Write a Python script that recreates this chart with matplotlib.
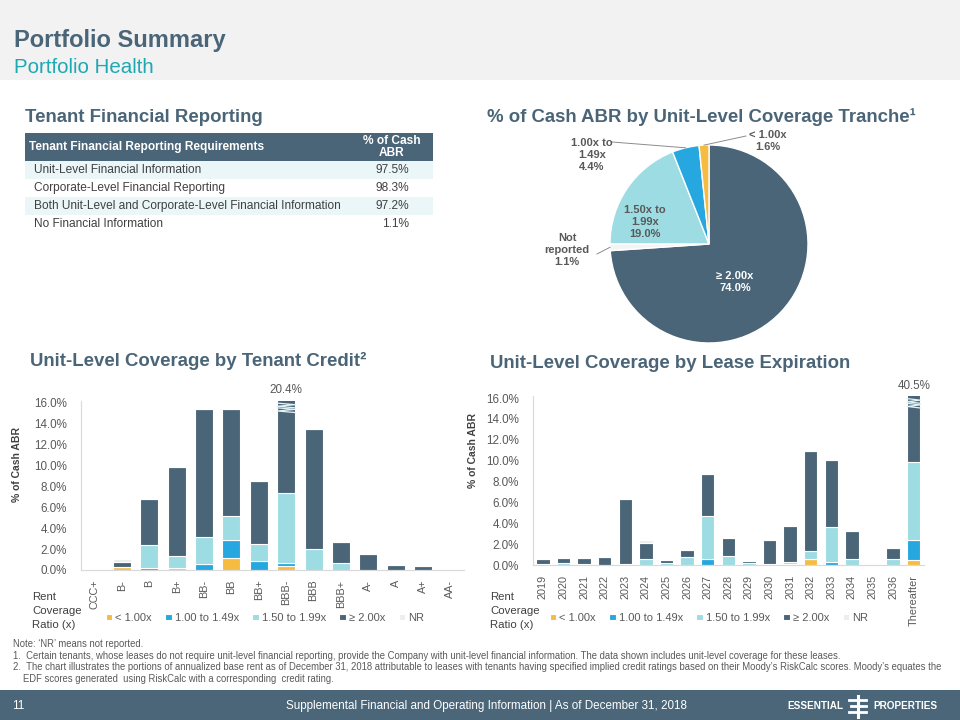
import matplotlib
matplotlib.use("Agg")
import matplotlib.pyplot as plt
from matplotlib.patches import Rectangle
from matplotlib.lines import Line2D
from matplotlib import font_manager
import numpy as np

# ---- data ----
table_rows = [
    "Unit-Level Financial Information",
    "Corporate-Level Financial Reporting",
    "Both Unit-Level and Corporate-Level Financial Information",
    "No Financial Information",
]
table_vals = [97.5, 98.3, 97.2, 1.1]

pie_labels = ["\u2265 2.00x", "Not\nreported", "1.50x to\n1.99x", "1.00x to\n1.49x", "< 1.00x"]
pie_vals = [74.0, 1.1, 19.0, 4.4, 1.6]

legend_labels = ["< 1.00x", "1.00 to 1.49x", "1.50 to 1.99x", "\u2265 2.00x", "NR"]

ratings = ["CCC+", "B-", "B", "B+", "BB-", "BB", "BB+", "BBB-", "BBB", "BBB+", "A-", "A", "A+", "AA-"]
cr_lt100 = [0, 0.25, 0, 0.15, 0, 1.15, 0, 0.4, 0, 0, 0, 0, 0, 0]
cr_100_149 = [0, 0, 0.15, 0, 0.6, 1.75, 0.85, 0.3, 0, 0, 0, 0, 0, 0]
cr_150_199 = [0, 0, 2.2, 1.2, 2.6, 2.25, 1.6, 6.7, 2.0, 0.7, 0, 0, 0, 0]
cr_ge200 = [0, 0.55, 4.4, 8.5, 12.2, 10.2, 6.1, 13.0, 11.5, 2.0, 1.55, 0.5, 0.4, 0]
cr_nr = [0, 0.25, 0, 0, 0, 0, 0, 0, 0, 0, 0, 0, 0, 0]

years = ["2019", "2020", "2021", "2022", "2023", "2024", "2025", "2026", "2027", "2028",
         "2029", "2030", "2031", "2032", "2033", "2034", "2035", "2036", "Thereafter"]
ex_lt100 = [0, 0, 0, 0, 0, 0, 0, 0, 0, 0, 0, 0, 0.1, 0.6, 0, 0, 0, 0, 0.45]
ex_100_149 = [0, 0, 0, 0, 0, 0, 0, 0, 0.6, 0, 0, 0, 0, 0, 0.3, 0, 0, 0, 1.9]
ex_150_199 = [0.05, 0.2, 0.1, 0, 0.1, 0.55, 0.15, 0.8, 4.1, 0.9, 0.15, 0.05, 0.2, 0.7, 3.3, 0.6, 0, 0.55, 7.5]
ex_ge200 = [0.5, 0.45, 0.55, 0.75, 6.25, 1.55, 0.35, 0.65, 4.05, 1.7, 0.25, 2.35, 3.45, 9.6, 6.45, 2.65, 0, 1.1, 30.65]
ex_nr = [0, 0, 0, 0, 0, 0.3, 0, 0, 0, 0, 0, 0, 0, 0, 0, 0, 0, 0, 0]

notes = [
    "Note: \u2018NR\u2019 means not reported.",
    "1.  Certain tenants, whose leases do not require unit-level financial reporting, provide the Company with unit-level financial information. The data shown includes unit-level coverage for these leases.",
    "2.  The chart illustrates the portions of annualized base rent as of December 31, 2018 attributable to leases with tenants having specified implied credit ratings based on their Moody\u2019s RiskCalc scores. Moody\u2019s equates the",
    "EDF scores generated  using RiskCalc with a corresponding  credit rating.",
]

# ---- style ----
DARK = "#4A6578"
TEAL = "#9CDCE2"
BLUE = "#27A7DF"
YELLOW = "#F6BC42"
NRC = "#EEEEEE"
TXT = "#595959"
seg_colors = [YELLOW, BLUE, TEAL, DARK, NRC]

plt.rcParams["font.family"] = ["Liberation Sans", "DejaVu Sans"]
names = {f.name for f in font_manager.fontManager.ttflist}
has_narrow = "Liberation Sans Narrow" in names
NARROW = ["Liberation Sans Narrow", "Liberation Sans", "DejaVu Sans"] if has_narrow else ["Liberation Sans", "DejaVu Sans"]

W, H = 960, 720
fig = plt.figure(figsize=(9.6, 7.2), dpi=100)


def px(x):
    return x / W


def py(y):
    return 1 - y / H


def rect(x0, y0, x1, y1, color):
    fig.add_artist(Rectangle((px(x0), py(y1)), (x1 - x0) / W, (y1 - y0) / H,
                             transform=fig.transFigure, color=color, lw=0, zorder=0))


# header band
rect(0, 0, W, 80, "#F2F2F2")
fig.text(px(14), py(47), "Portfolio Summary", fontsize=17, fontweight="bold", color=DARK, va="baseline")
fig.text(px(14), py(73), "Portfolio Health", fontsize=14.8, color="#1FA8B2", va="baseline")

# section titles
tfs = 13.4
fig.text(px(25), py(122), "Tenant Financial Reporting", fontsize=tfs, fontweight="bold", color=DARK, va="baseline")
fig.text(px(487), py(122), "% of Cash ABR by Unit-Level Coverage Tranche\u00b9", fontsize=tfs, fontweight="bold", color=DARK, va="baseline")
fig.text(px(30), py(366), "Unit-Level Coverage by Tenant Credit\u00b2", fontsize=tfs, fontweight="bold", color=DARK, va="baseline")
fig.text(px(490), py(368), "Unit-Level Coverage by Lease Expiration", fontsize=tfs, fontweight="bold", color=DARK, va="baseline")

# table
rect(25, 133, 433, 161, DARK)
fig.text(px(29), py(147), "Tenant Financial Reporting Requirements", fontsize=8.6, fontweight="bold", color="white", va="center")
fig.text(px(392), py(147), "% of Cash\nABR", fontsize=8.6, fontweight="bold", color="white", va="center", ha="center", linespacing=1.0)
for i, (name, val) in enumerate(zip(table_rows, table_vals)):
    y0 = 161 + i * 18
    if i % 2 == 0:
        rect(25, y0, 433, y0 + 18, "#EBF6F8")
    fig.text(px(34), py(y0 + 9), name, fontsize=8.6, color="#404040", va="center")
    fig.text(px(409), py(y0 + 9), f"{val:.1f}%", fontsize=8.6, color="#404040", va="center", ha="right")

# pie
cx, cy, r = 709, 244, 99
axp = fig.add_axes([px(cx - r), py(cy + r), 2 * r / W, 2 * r / H])
pie_colors = [DARK, "#F4F4F4", TEAL, BLUE, YELLOW]
axp.pie(pie_vals, colors=pie_colors, startangle=90, counterclock=False,
        wedgeprops=dict(edgecolor="white", linewidth=1.0))
axp.set_xlim(-1, 1)
axp.set_ylim(-1, 1)
axp.set_aspect("equal")
axp.axis("off")

ends = 90 - np.cumsum(pie_vals) / sum(pie_vals) * 360
starts = np.concatenate([[90], ends[:-1]])
mids = np.deg2rad((starts + ends) / 2)


def to_d(x, y):
    return (x - cx) / r, (cy - y) / r


lab_style = dict(fontsize=8, fontweight="bold", color=TXT, ha="center", va="center", linespacing=1.2)
axp.text(*to_d(735, 282), f"{pie_labels[0]}\n{pie_vals[0]:.1f}%", **dict(lab_style, color="white"))
axp.text(*to_d(645, 222), f"{pie_labels[2]}\n{pie_vals[2]:.1f}%", **lab_style)
axp.text(*to_d(567, 250), f"{pie_labels[1]}\n{pie_vals[1]:.1f}%", clip_on=False, **lab_style)
axp.text(*to_d(592, 155), f"{pie_labels[3]}\n{pie_vals[3]:.1f}%", clip_on=False, **lab_style)
axp.text(*to_d(768, 141), f"{pie_labels[4]}\n{pie_vals[4]:.1f}%", clip_on=False, **lab_style)
for idx, start in [(1, (597, 254)), (3, (612, 142)), (4, (746, 136))]:
    sx, sy = to_d(*start)
    axp.plot([sx, np.cos(mids[idx])], [sy, np.sin(mids[idx])], color="#8C8C8C", lw=0.7, clip_on=False)


# stacked bar charts
def stacked(ax, cats, series, width):
    x = np.arange(len(cats))
    bottom = np.zeros(len(cats))
    handles = []
    for vals, col in zip(series, seg_colors):
        vals = np.array(vals, dtype=float)
        b = ax.bar(x, vals, width, bottom=bottom, color=col, edgecolor="white", linewidth=0.8)
        handles.append(b)
        bottom += vals
    ymax = 16.2
    ax.set_ylim(0, ymax)
    ax.set_xlim(-0.5, len(cats) - 0.5)
    ax.set_yticks(np.arange(0, 17, 2))
    ax.set_yticklabels([f"{v:.1f}%" for v in np.arange(0, 17, 2)])
    ax.set_xticks(x)
    ax.set_xticklabels(cats, rotation=90)
    ax.tick_params(length=0, labelcolor=TXT)
    ax.tick_params(axis="y", pad=10, labelsize=8.4)
    ax.tick_params(axis="x", pad=7, labelsize=7.8)
    for s in ["top", "right"]:
        ax.spines[s].set_visible(False)
    for s in ["left", "bottom"]:
        ax.spines[s].set_color("#D9D9D9")
        ax.spines[s].set_linewidth(0.8)
    # broken bars
    for i, tot in enumerate(bottom):
        if tot > ymax:
            l, rr = i - width / 2, i + width / 2
            for off in (0.0, 0.45):
                ax.plot([l, rr, l, rr], [ymax - 0.25 - off, ymax - 0.4 - off, ymax - 0.55 - off, ymax - 0.7 - off],
                        color="#E3F3F6", lw=0.9, zorder=5)
            ax.annotate(f"{tot:.1f}%", (i, ymax), xytext=(0, 3), textcoords="offset points",
                        ha="center", va="bottom", fontsize=8.4, color=TXT, annotation_clip=False)
    ax.set_ylabel("% of Cash ABR", fontsize=7.5, fontweight="bold", color="#404040")
    return handles


ax1 = fig.add_axes([px(81), py(570), (464 - 81) / W, (570 - 400.5) / H])
h1 = stacked(ax1, ratings, [cr_lt100, cr_100_149, cr_150_199, cr_ge200, cr_nr], 0.66)
ax1.yaxis.set_label_coords(-0.155, 0.62)

ax2 = fig.add_axes([px(532.7), py(565), (924 - 532.7) / W, (565 - 396) / H])
h2 = stacked(ax2, years, [ex_lt100, ex_100_149, ex_150_199, ex_ge200, ex_nr], 0.65)
ax2.yaxis.set_label_coords(-0.14, 0.68)

for h, lx, rx in [(h1, 106, 32), (h2, 550, 490)]:
    fig.text(px(rx), py(611), "Rent\nCoverage\nRatio (x)", fontsize=8.2, color="#404040",
             va="center", linespacing=1.5)
    fig.legend(h, legend_labels, loc="center left", bbox_to_anchor=(px(lx), py(618)), ncol=5,
               frameon=False, fontsize=8, handlelength=0.55, handleheight=0.55, handletextpad=0.3,
               columnspacing=1.2, borderpad=0, borderaxespad=0, labelcolor=TXT)

# notes
nfs = 6.6 if has_narrow else 6.85
for i, line in enumerate(notes):
    fig.text(px(13 if i < 3 else 23), py(644 + i * 11.7), line, fontsize=nfs, color=TXT, va="center", family=NARROW)

# footer
rect(0, 690, W, H, "#4B6679")
ffs = 9 if has_narrow else 8.4
fig.text(px(12), py(706), "11", fontsize=8.5, color="white", va="center", family=NARROW)
fig.text(px(486), py(706), "Supplemental Financial and Operating Information | As of December 31, 2018",
         fontsize=ffs, color="white", va="center", ha="center", family=NARROW)
fig.text(px(843), py(706), "ESSENTIAL", fontsize=8.5 if has_narrow else 7.2, fontweight="bold", color="white",
         va="center", ha="right", family=NARROW)
fig.text(px(873), py(706), "PROPERTIES", fontsize=8.5 if has_narrow else 7.2, fontweight="bold", color="white",
         va="center", ha="left", family=NARROW)
for yy, x0, x1 in [(700, 849, 866), (706, 851, 866), (712, 849, 866)]:
    fig.add_artist(Line2D([px(x0), px(x1)], [py(yy), py(yy)], transform=fig.transFigure, color="white", lw=2))
fig.add_artist(Line2D([px(858), px(858)], [py(696), py(717)], transform=fig.transFigure, color="white", lw=2.2))

fig.savefig("out.png", dpi=100)
